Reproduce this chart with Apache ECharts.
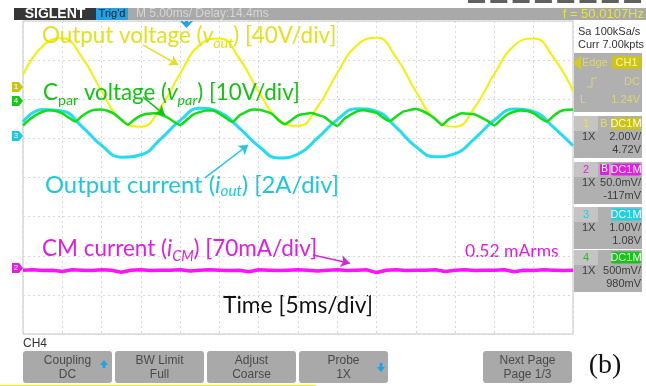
<!DOCTYPE html>
<html>
<head>
<meta charset="utf-8">
<script src="https://cdn.jsdelivr.net/npm/echarts@6/dist/echarts.min.js"></script>
<style>
  html, body { margin: 0; padding: 0; background: #fff; }
  #chart { width: 646px; height: 386px; }
</style>
</head>
<body>
<div id="chart"></div>
<script>
// screen is 14 x 8 divisions, values below are in divisions from centre
const ch1Step = 0.5
const ch1Output = [
  2.62, 3.36, 3.56, 3.07, 2.21, 1.47, 1.30, 1.79,
  2.66, 3.39, 3.55, 3.05, 2.19, 1.49, 1.32, 1.81,
  2.67, 3.38, 3.57, 3.06, 2.20, 1.48, 1.30, 1.80,
  2.65, 3.37, 3.55, 3.07, 2.21
]
const ch3Step = 0.5
const ch3Current = [
  1.42, 1.74, 1.70, 1.30, 0.82, 0.52, 0.58, 0.98,
  1.46, 1.77, 1.67, 1.27, 0.80, 0.50, 0.60, 1.01,
  1.48, 1.76, 1.69, 1.28, 0.79, 0.53, 0.61, 1.00,
  1.47, 1.75, 1.68, 1.29, 0.81
]
const ch4Step = 1 / 6
const ch4Cpar = [
  1.33, 1.48, 1.60, 1.68, 1.72, 1.70, 1.64, 1.53, 1.43, 1.57, 1.68, 1.73, 1.74, 1.70, 1.62, 1.48,
  1.35, 1.48, 1.58, 1.63, 1.64, 1.61, 1.54, 1.43,
  1.34, 1.47, 1.61, 1.67, 1.71, 1.71, 1.63, 1.52, 1.42, 1.58, 1.67, 1.74, 1.73, 1.69, 1.63, 1.47,
  1.36, 1.47, 1.59, 1.62, 1.65, 1.60, 1.55, 1.42,
  1.32, 1.49, 1.60, 1.69, 1.72, 1.69, 1.65, 1.53, 1.44, 1.56, 1.68, 1.72, 1.75, 1.70, 1.61, 1.49,
  1.34, 1.49, 1.57, 1.64, 1.63, 1.61, 1.53, 1.44,
  1.33, 1.48, 1.61, 1.68, 1.71, 1.70, 1.64, 1.52, 1.43, 1.57, 1.69, 1.73, 1.74
]
const ch2Step = 0.25
const ch2CM = [
  -2.37, -2.36, -2.38, -2.37, -2.40, -2.36, -2.37, -2.38, -2.36, -2.37,
  -2.42, -2.37, -2.36, -2.38, -2.37, -2.37, -2.36, -2.39, -2.37, -2.36,
  -2.37, -2.38, -2.37, -2.41, -2.36, -2.37, -2.38, -2.37, -2.36, -2.37,
  -2.39, -2.37, -2.36, -2.38, -2.37, -2.36, -2.43, -2.37, -2.36, -2.38,
  -2.37, -2.37, -2.36, -2.40, -2.37, -2.36, -2.38, -2.37, -2.37, -2.36,
  -2.41, -2.37, -2.38, -2.36, -2.37, -2.38, -2.37
]
const chanLabels = ['1', '2', '3', '4']
const chanScale = ['2.00V/', '50.0mV/', '1.00V/', '500mV/']
const chanOffset = ['4.72V', '-117mV', '1.08V', '980mV']
const menuTop = ['Coupling', 'BW Limit', 'Adjust', 'Probe', 'Next Page']
const menuBottom = ['DC', 'Full', 'Coarse', '1X', 'Page 1/3']

const YEL = '#f2f200', MAG = '#ff10ff', CYA = '#22dcf0', GRN = '#10e010'
const FONT = 'Lato'
const UI = 'Liberation Sans'

const pairs = (arr, step) => arr.map((v, i) => [+(i * step).toFixed(4), v])

const arrow = (from, to, color) => ({
  silent: true,
  symbol: ['none', 'arrow'],
  symbolSize: 9,
  label: {show: false},
  lineStyle: {color, width: 1.5, type: 'solid'},
  data: [[{coord: from}, {coord: to}]]
})

const g = []
const rect = (x, y, w, h, fill, r) => g.push({type: 'rect', silent: true, shape: {x, y, width: w, height: h, r: r || 0}, style: {fill}})
const txt = (x, y, s, fill, size, align, extra) => g.push({type: 'text', silent: true, x, y,
  style: Object.assign({text: s, fill, fontSize: size, fontFamily: UI, align: align || 'left', verticalAlign: 'middle'}, extra || {})})
const poly = (pts, fill) => g.push({type: 'polygon', silent: true, shape: {points: pts}, style: {fill}})

// top strip
for (let k = 0; k < 8; k++) rect(468 + k * 22.3, 0, 17, 3, '#606060')
rect(128, 8, 518, 12, '#a9a9a9')
rect(14, 8, 82, 12, '#363636')
txt(55, 14.5, 'SIGLENT', '#ffffff', 14, 'center', {fontWeight: 'bold'})
rect(96, 8, 32, 12, '#1ea4e6')
txt(112, 14, "Trig'd", '#1a1a1a', 11, 'center')
txt(136, 14, 'M 5.00ms/ Delay:14.4ms', '#d6d6d6', 12)
txt(644, 14, 'f = 50.0107Hz', '#e4e43a', 13, 'right')
poly([[180, 21], [193, 21], [186.5, 28]], '#1ea4e6')

// left channel markers
const markers = [[87, '1', '#c8c418'], [101, '4', '#18c818'], [136, '3', '#20c8d8'], [268, '2', '#e020e0']]
markers.forEach(([y, n, c]) => {
  poly([[12, y - 5], [19, y - 5], [23, y], [19, y + 5], [12, y + 5]], c)
  txt(16, y, n, '#ffffff', 8, 'center')
})

// right panel
txt(578, 32, 'Sa 100kSa/s', '#333333', 11)
txt(578, 45, 'Curr 7.00kpts', '#333333', 11)
rect(574, 53, 68, 59, '#b0b0b0')
poly([[573, 63], [581, 56], [581, 70]], '#d4cc20')
txt(582, 63, 'Edge', '#dcd478', 11)
rect(612, 56, 29, 13, '#ccc418', 2)
txt(626.5, 63, 'CH1', '#fafa90', 11, 'center')
g.push({type: 'polyline', silent: true, shape: {points: [[587, 87], [592, 87], [592, 78], [597, 78]]}, style: {stroke: '#dcd478', lineWidth: 1}})
txt(640, 82, 'DC', '#dcd478', 11, 'right')
txt(580, 100, 'L', '#dcd478', 11)
txt(640, 100, '1.24V', '#dcd478', 11, 'right')

const boxTops = [116, 162, 207, 250]
const boxCols = ['#ccc418', '#e020e0', '#20d0e0', '#18c418']
const numCols = ['#e8e050', '#e020e0', '#20d0e0', '#18c418']
chanLabels.forEach((n, i) => {
  const t = boxTops[i]
  rect(574, t, 68, 42, '#b0b0b0')
  rect(574, t, 24, 15, '#c4c4c4')
  txt(586, t + 7.5, n, numCols[i], 11, 'center')
  rect(611, t + 1.5, 30, 12, boxCols[i], 2)
  txt(626, t + 7.5, 'DC1M', '#fafafa', 11, 'center')
  if (i === 0) txt(604, t + 7.5, 'B', '#e8e050', 11, 'center')
  if (i === 1) { rect(600, t + 2, 9, 11, '#e020e0', 1); txt(604.5, t + 7.5, 'B', '#fafafa', 10, 'center') }
  txt(582, t + 21, '1X', '#3c3c3c', 11)
  txt(641, t + 21, chanScale[i], '#3c3c3c', 11, 'right')
  txt(641, t + 34, chanOffset[i], '#3c3c3c', 11, 'right')
})

// bottom menu
txt(23, 344, 'CH4', '#333333', 12)
const btnX = [23, 115, 207, 299, 483]
menuTop.forEach((s, i) => {
  rect(btnX[i], 351, 89, 32, '#a9a9a9', 3)
  txt(btnX[i] + 44.5, 361, s, '#4a4a4a', 12, 'center')
  txt(btnX[i] + 44.5, 375, menuBottom[i], '#4a4a4a', 12, 'center')
})
poly([[100, 365], [108, 365], [104, 360]], '#1ea4e6'); rect(102.5, 365, 3, 3, '#1ea4e6')
poly([[377, 367], [385, 367], [381, 372]], '#1ea4e6'); rect(379.5, 363, 3, 4, '#1ea4e6')
rect(0, 385, 316, 1, '#f0f000')
txt(605, 366, '(b)', '#111111', 28, 'center', {fontFamily: 'Liberation Serif'})

// annotations
const rich = (c, sz) => ({
  n: {fontSize: sz, fontFamily: FONT, fill: c, lineHeight: 28},
  i: {fontSize: sz, fontFamily: FONT, fontStyle: 'italic', fill: c, lineHeight: 28},
  s: {fontSize: sz * 0.64, fontFamily: FONT, fill: c, lineHeight: 14, verticalAlign: 'bottom'},
  si: {fontSize: sz * 0.64, fontFamily: FONT, fontStyle: 'italic', fill: c, lineHeight: 14, verticalAlign: 'bottom'}
})
const ann = (x, y, s, c, sz) => g.push({type: 'text', silent: true, x, y, z: 10,
  style: {text: s, rich: rich(c, sz), fill: c, verticalAlign: 'middle', fontSize: sz, fontFamily: FONT}})
ann(42, 36, '{n|Output voltage (}{i|v}{si|out}{n|) [40V/div]}', '#e4e01c', 22.4)
ann(43, 93, '{n|C}{s|par}{n| voltage (}{i|v}{si|par}{n|) [10V/div]}', '#12c412', 22.3)
ann(45, 185, '{n|Output current (}{i|i}{si|out}{n|) [2A/div]}', '#1ec8dc', 23.8)
ann(42, 249, '{n|CM current (}{i|i}{si|CM}{n|) [70mA/div]}', '#e01ee0', 22.5)
g.push({type: 'text', silent: true, x: 465, y: 251, style: {text: '0.52 mArms', fill: '#e01ee0', fontSize: 17.5, fontFamily: FONT, verticalAlign: 'middle'}})
g.push({type: 'text', silent: true, x: 223, y: 306, style: {text: 'Time [5ms/div]', fill: '#111111', fontSize: 22.8, fontFamily: FONT, verticalAlign: 'middle'}})

const chart = echarts.init(document.getElementById('chart'))
chart.setOption({
  animation: false,
  backgroundColor: '#ffffff',
  grid: {left: 23, top: 21, width: 550, height: 313, show: true, borderColor: '#c4c4c4', borderWidth: 1},
  xAxis: {
    type: 'value', min: 0, max: 14, interval: 1,
    axisLine: {show: false}, axisTick: {show: false}, axisLabel: {show: false},
    splitLine: {lineStyle: {color: '#d8d8d8', type: [2, 3]}}
  },
  yAxis: {
    type: 'value', min: -4, max: 4, interval: 1,
    axisLine: {show: false}, axisTick: {show: false}, axisLabel: {show: false},
    splitLine: {lineStyle: {color: '#d8d8d8', type: [2, 3]}}
  },
  series: [
    {type: 'line', data: pairs(ch1Output, ch1Step), smooth: 0.5, showSymbol: false,
      lineStyle: {color: YEL, width: 2}, markLine: arrow([3.05, 3.39], [3.95, 2.88], '#e4e01c')},
    {type: 'line', data: pairs(ch3Current, ch3Step), smooth: 0.5, showSymbol: false,
      lineStyle: {color: CYA, width: 3}, markLine: arrow([4.63, -0.01], [5.73, 0.83], '#1ec8dc')},
    {type: 'line', data: pairs(ch4Cpar, ch4Step), smooth: 0.2, showSymbol: false,
      lineStyle: {color: GRN, width: 2.5}, markLine: arrow([3.05, 2.06], [3.61, 1.6], '#12c412')},
    {type: 'line', data: pairs(ch2CM, ch2Step), showSymbol: false,
      lineStyle: {color: MAG, width: 3.5}, markLine: arrow([7.38, -1.98], [8.32, -2.19], '#e01ee0')}
  ],
  graphic: {elements: g}
})
</script>
</body>
</html>
